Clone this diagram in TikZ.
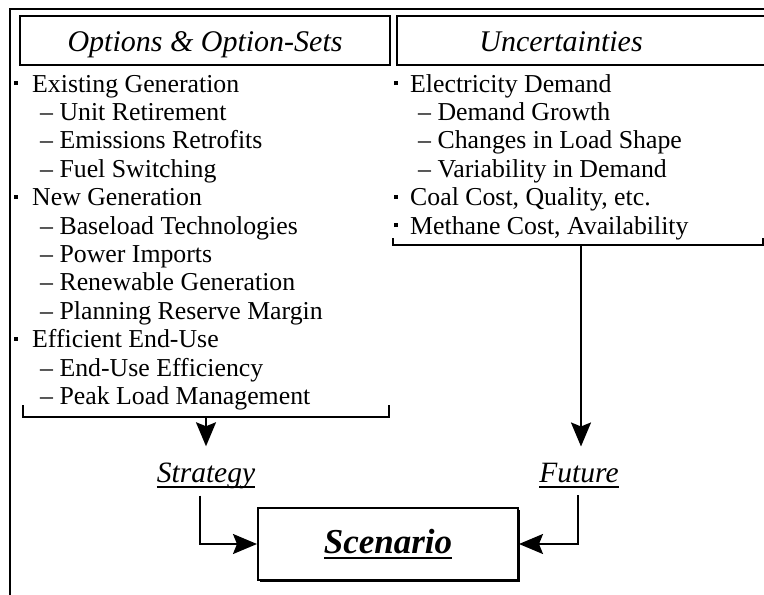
\documentclass[tikz,border=0pt]{standalone}
\usepackage{fontspec}
\setmainfont{Liberation Serif}
\usetikzlibrary{arrows.meta, shadows}

\newsavebox{\ulinbox}
\newcommand{\ulin}[1]{\sbox{\ulinbox}{#1}\rlap{\rule[-6pt]{\wd\ulinbox}{2pt}}\usebox{\ulinbox}}
\newcommand{\dotb}[1][18pt]{\makebox[#1][l]{\raisebox{7pt}{\rule{4pt}{4pt}}}}

\tikzset{
  item/.style={anchor=base west, inner sep=0pt, font=\fontsize{25.8}{30}\selectfont},
  head/.style={anchor=base, inner sep=0pt, font=\fontsize{30}{36}\selectfont\itshape},
  label/.style={anchor=base, inner sep=0pt, font=\fontsize{29.5}{34}\selectfont\itshape},
  arr/.style={line width=2pt, -{Stealth[length=24pt, width=20pt, inset=4pt]}},
}

\begin{document}
\begin{tikzpicture}[x=1pt, y=-1pt]
  \useasboundingbox (0,0) rectangle (764,595);
  \clip (0,0) rectangle (764,595);
  % frame
  \draw[line width=2pt] (10,600) -- (10,9) -- (770,9);

  % column heads
  \draw[line width=2pt] (20,16) rectangle (390,65);
  \node[head] (opth) at (205,51) {Options \& Option-Sets};
  \draw[line width=2pt] (775,16) -| (397,65) -- (775,65);
  \node[head] (unch) at (561,51) {Uncertainties};

  % options
  \node[item] (o1)  at (14,92)    {\dotb Existing Generation};
  \node[item] (o2)  at (40,120.4) {-- Unit Retirement};
  \node[item] (o3)  at (40,148.8) {-- Emissions Retrofits};
  \node[item] (o4)  at (40,177.2) {-- Fuel Switching};
  \node[item] (o5)  at (14,205.6) {\dotb New Generation};
  \node[item] (o6)  at (40,234)   {-- Baseload Technologies};
  \node[item] (o7)  at (40,262.4) {-- Power Imports};
  \node[item] (o8)  at (40,290.8) {-- Renewable Generation};
  \node[item] (o9)  at (40,319.2) {-- Planning Reserve Margin};
  \node[item] (o10) at (14,347.6) {\dotb Efficient End-Use};
  \node[item] (o11) at (40,376)   {-- End-Use Efficiency};
  \node[item] (o12) at (40,404.4) {-- Peak Load Management};

  % uncertainties
  \node[item] (u1) at (394,92)    {\dotb[16pt]Electricity Demand};
  \node[item] (u2) at (418,120.4) {-- Demand Growth};
  \node[item] (u3) at (418,148.8) {-- Changes in Load Shape};
  \node[item] (u4) at (418,177.2) {-- Variability in Demand};
  \node[item] (u5) at (394,205.6) {\dotb[16pt]Coal Cost, Quality, etc.};
  \node[item] (u6) at (394,234)   {\dotb[16pt]Methane Cost, Availability};

  % brackets
  \draw[line width=1.5pt] (23,405) |- (389,417) -- (389,405);
  \coordinate (lb) at (206,417);
  \draw[line width=1.5pt] (393,238) |- (763,245) -- (763,238);
  \coordinate (rb) at (581,245);

  \node[label] (strat) at (206,482) {\ulin{Strategy}};
  \node[label] (fut)   at (579,482) {\ulin{Future}};

  \node[draw, fill=white, line width=2pt, minimum width=260, minimum height=72,
        drop shadow={shadow xshift=2pt, shadow yshift=-2pt, fill=black, opacity=1},
        font=\fontsize{35}{40}\selectfont\bfseries\itshape] (scen) at (388,544) {\ulin{Scenario}};

  \draw[arr] (lb) -- ([yshift=16pt]strat.north);
  \draw[arr] (rb) -- ([xshift=2pt, yshift=16pt]fut.north);
  \draw[arr] ([xshift=-6pt, yshift=-7pt]strat.south) |- (scen.west);
  \draw[arr] ([xshift=-1pt, yshift=-7pt]fut.south) |- (scen.east);
\end{tikzpicture}
\end{document}
